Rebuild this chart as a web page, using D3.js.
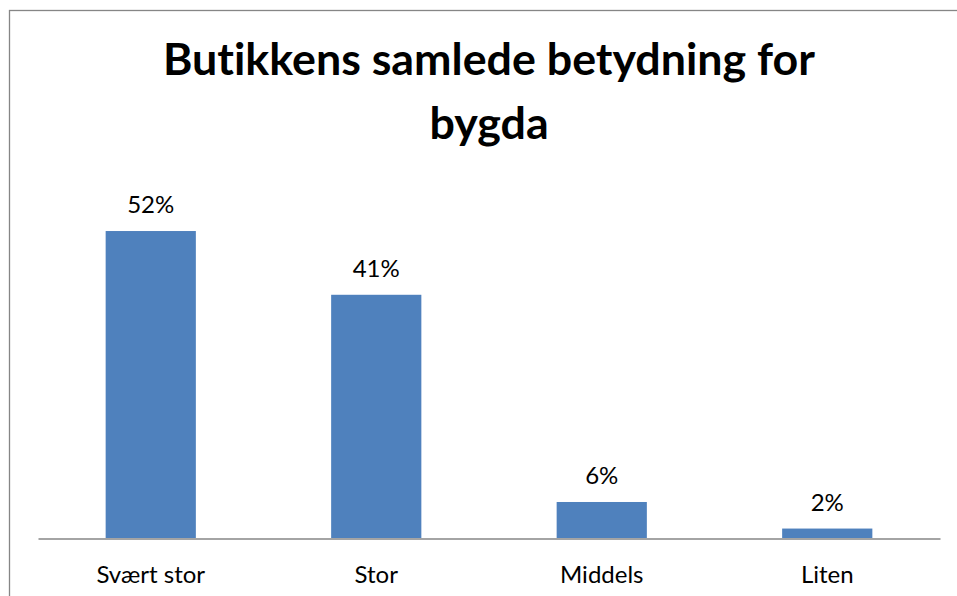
<!DOCTYPE html>
<html><head><meta charset="utf-8">
<script src="https://cdn.jsdelivr.net/npm/d3@7"></script>
<style>html,body{margin:0;padding:0;background:#fff;}svg{display:block;}text{font-variant-ligatures:none;font-feature-settings:"liga" 0;}</style>
</head><body>
<script>
const titleLines = ["Butikkens samlede betydning for", "bygda"];
const categories = ["Svært stor", "Stor", "Middels", "Liten"];
const values = [0.52, 0.412, 0.061, 0.016];

const W = 957, H = 596;
const svg = d3.select("body").append("svg").attr("width", W).attr("height", H);
svg.append("rect").attr("x", 9.5).attr("y", 10.5).attr("width", 980).attr("height", 620)
  .attr("fill", "#fff").attr("stroke", "#868686").attr("stroke-width", 1.3);

const x = d3.scaleBand().domain(categories).range([38, 940]).paddingInner(0.6).paddingOuter(0.3);
const y = d3.scaleLinear().domain([0, 0.6]).range([538, 183.8]);

const FONT = "Lato, 'Open Sans', sans-serif";
const tLines = [75, 139];
const title = svg.append("g");
titleLines.forEach((t, i) => {
  title.append("text").attr("x", 489).attr("y", tLines[i]).attr("text-anchor", "middle")
    .attr("font-family", FONT).attr("font-weight", "bold")
    .attr("font-size", 41).attr("fill", "#000").text(t);
});
const first = title.select("text").node();
const len = first.getComputedTextLength();
const fs = 41 * 652 / len;
title.selectAll("text").attr("font-size", Math.min(fs, 46));

svg.selectAll("rect.bar").data(values).join("rect").attr("class", "bar")
  .attr("x", (d, i) => x(categories[i])).attr("width", x.bandwidth())
  .attr("y", d => y(d)).attr("height", d => y(0) - y(d)).attr("fill", "#4F81BD");

const fmt = d3.format(".0%");
svg.selectAll("text.lbl").data(values).join("text").attr("class", "lbl")
  .attr("x", (d, i) => x(categories[i]) + x.bandwidth() / 2).attr("y", d => y(d) - 18)
  .attr("text-anchor", "middle").attr("font-family", FONT)
  .attr("font-size", 24).attr("fill", "#000").text(d => fmt(d));

const xAxis = d3.axisBottom(x).tickSize(0).tickPadding(0);
const ax = svg.append("g").attr("transform", "translate(0,538.5)").call(xAxis);
ax.select(".domain").attr("stroke", "#868686").attr("stroke-width", 1.3);
ax.selectAll("text").attr("font-family", FONT).attr("font-size", 24)
  .attr("fill", "#000").attr("dy", null).attr("y", 44);
</script>
</body></html>
